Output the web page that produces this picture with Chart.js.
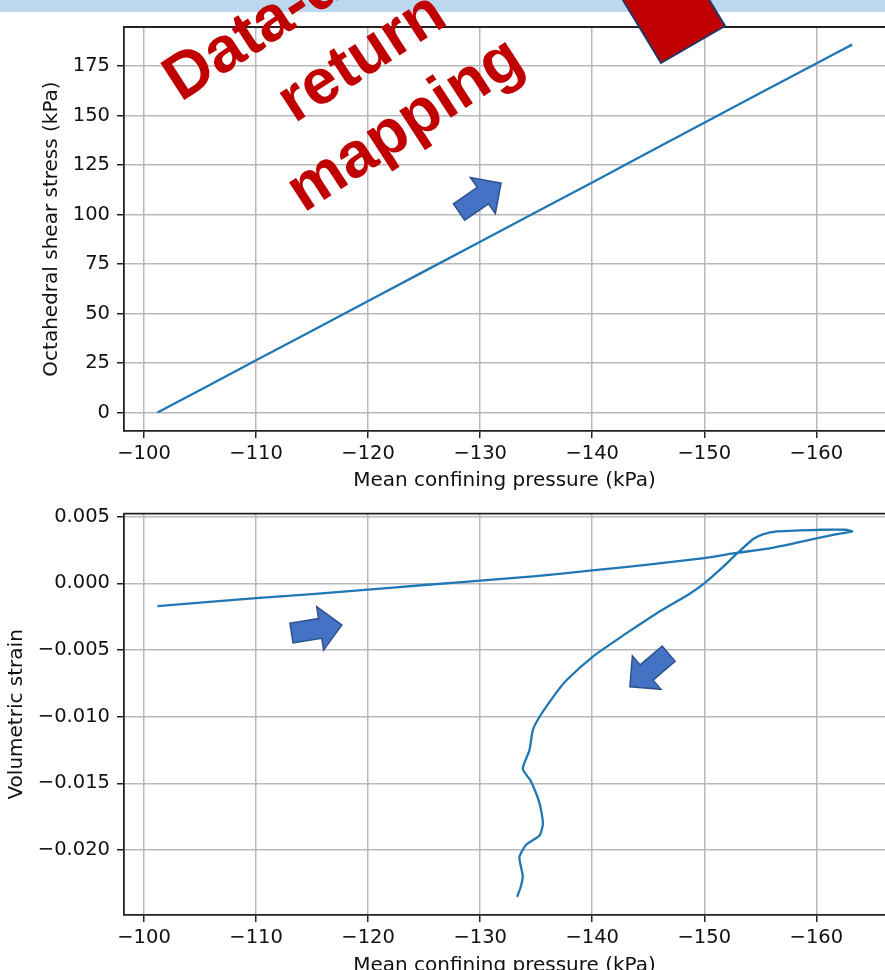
<!DOCTYPE html>
<html>
<head>
<meta charset="utf-8">
<script src="https://cdn.jsdelivr.net/npm/chart.js@4.4.1/dist/chart.umd.min.js"></script>
<style>
html,body{margin:0;padding:0;background:#fff;width:885px;height:970px;overflow:hidden;}
#wrap{position:relative;width:885px;height:970px;overflow:hidden;}
canvas{position:absolute;left:0;}
#c1{top:0;}
#c2{top:495px;}
#rt{position:absolute;left:110px;top:-65px;width:500px;height:240px;text-align:center;white-space:nowrap;
  font-family:'Liberation Sans',Arial,sans-serif;font-weight:bold;font-size:64px;line-height:80px;color:#c00000;
  transform:rotate(-33deg);transform-origin:50% 50%;}
#strip{position:absolute;left:0;top:0;width:885px;height:12px;background:#bdd7ee;}
#deco{position:absolute;left:0;top:0;}
</style>
</head>
<body>
<div id="wrap">
  <canvas id="c1" width="885" height="495"></canvas>
  <canvas id="c2" width="885" height="483"></canvas>
  <div id="strip"></div>
  <div id="rt">Data-driven<br>return<br>mapping</div>
  <svg id="deco" width="885" height="970" viewBox="0 0 885 970">
    <polygon points="661,63 725,26 673,-60 609,-23" fill="#c00000" stroke="#203864" stroke-width="2"/>
    <g fill="#4472c4" stroke="#2f528f" stroke-width="1.5" stroke-linejoin="miter">
      <path transform="translate(459,212) rotate(-34.5)" d="M0,-10 L29,-10 L29,-22 L51,0 L29,22 L29,10 L0,10 Z"/>
      <path transform="translate(291.5,633) rotate(-9)" d="M0,-10 L29,-10 L29,-22 L51,0 L29,22 L29,10 L0,10 Z"/>
      <path transform="translate(668.7,653.7) rotate(139.5)" d="M0,-10 L29,-10 L29,-22 L51,0 L29,22 L29,10 L0,10 Z"/>
    </g>
  </svg>
</div>
<script>
// ---- data ----
const xTickValues = [-100, -110, -120, -130, -140, -150, -160];
const xTickLabels = ['\u2212100', '\u2212110', '\u2212120', '\u2212130', '\u2212140', '\u2212150', '\u2212160'];

const stressTickValues = [0, 25, 50, 75, 100, 125, 150, 175];
const stressTickLabels = ['0', '25', '50', '75', '100', '125', '150', '175'];

const strainTickValues = [0.005, 0, -0.005, -0.01, -0.015, -0.02];
const strainTickLabels = ['0.005', '0.000', '\u22120.005', '\u22120.010', '\u22120.015', '\u22120.020'];

// top panel: mean confining pressure vs octahedral shear stress
const pressureTop = [-101.2, -110, -120, -130, -140, -150, -160, -163.2];
const shearStress = [0, 26.4, 56.3, 86.3, 116.2, 146.4, 176.3, 185.8];

// bottom panel: mean confining pressure vs volumetric strain
const pressureBottom = [-101.2, -105, -110, -115, -120, -125, -130, -135, -140, -145, -150, -153, -155.6, -158.5, -161.5, -163.2,
  -162.6, -160.5, -158.5, -156.5, -155.3, -154.4, -153, -151.5, -150, -148.7, -145.7, -143, -140.2, -137.7, -136.7, -135.3,
  -134.7, -134.4, -133.8, -134.5, -135.3, -135.6, -135.3, -134.1, -133.5, -133.6, -133.8, -133.6, -133.3];
const volStrain = [-0.0017, -0.00145, -0.0011, -0.0008, -0.00047, -0.00012, 0.0002, 0.00055, 0.00097, 0.0014, 0.0019, 0.0023, 0.0026, 0.0031, 0.00364, 0.0039,
  0.00402, 0.00402, 0.00397, 0.0039, 0.0037, 0.00335, 0.0023, 0.0011, 0.0, -0.00077, -0.00227, -0.00377, -0.0054, -0.00726, -0.0083, -0.0100,
  -0.0110, -0.0125, -0.0139, -0.0148, -0.0165, -0.0180, -0.0189, -0.0196, -0.0205, -0.0211, -0.0220, -0.0228, -0.0235];

const xLabel = 'Mean confining pressure (kPa)';
const yLabelTop = 'Octahedral shear stress (kPa)';
const yLabelBottom = 'Volumetric strain';

// ---- rendering ----
const FONT = {family: "'DejaVu Sans', sans-serif", size: 19.5};
const TFONT = {family: "'DejaVu Sans', sans-serif", size: 20};
const SPINE = '#222';
const GRID = '#b9b9b9';

const topSpine = {
  id: 'topSpine',
  afterDraw(chart) {
    const {ctx, chartArea: a} = chart;
    ctx.save();
    ctx.strokeStyle = SPINE;
    ctx.lineWidth = 1.8;
    ctx.beginPath();
    ctx.moveTo(a.left, a.top);
    ctx.lineTo(a.right + 2, a.top);
    ctx.stroke();
    ctx.restore();
  }
};

function xScale(axisHeight, titlePadBottom) {
  return {
    type: 'linear', position: 'bottom', reverse: true,
    min: -166.13, max: -98.21,
    afterBuildTicks: s => { s.ticks = xTickValues.map(v => ({value: v})); },
    afterFit: s => { s.height = axisHeight; },
    ticks: {
      autoSkip: false, maxRotation: 0, minRotation: 0, padding: 4,
      color: '#111', font: FONT,
      callback: v => xTickLabels[xTickValues.indexOf(v)]
    },
    grid: {color: GRID, lineWidth: 1.5, drawTicks: true, tickLength: 7, tickColor: SPINE, tickWidth: 1.5},
    border: {display: true, color: SPINE, width: 1.8},
    title: {display: true, text: xLabel, color: '#111', font: TFONT, padding: {top: 0, bottom: titlePadBottom}}
  };
}

function yScale(min, max, vals, labels, title, titlePadTop) {
  return {
    type: 'linear', position: 'left', min: min, max: max,
    afterBuildTicks: s => { s.ticks = vals.map(v => ({value: v})); },
    afterFit: s => { s.width = 124; },
    ticks: {
      padding: 7, color: '#111', font: FONT,
      callback: v => labels[vals.indexOf(v)]
    },
    grid: {color: GRID, lineWidth: 1.5, drawTicks: true, tickLength: 7, tickColor: SPINE, tickWidth: 1.5},
    border: {display: true, color: SPINE, width: 1.8},
    title: {display: true, text: title, color: '#111', font: TFONT, padding: {top: titlePadTop, bottom: 0}}
  };
}

function lineDataset(xs, ys) {
  return {
    data: xs.map((x, i) => ({x: x, y: ys[i]})),
    showLine: true, borderColor: '#1f77b4', borderWidth: 2.3,
    pointRadius: 0, pointHoverRadius: 0, tension: 0.2, fill: false
  };
}

const common = {
  responsive: false, animation: false, devicePixelRatio: 1,
  plugins: {legend: {display: false}, tooltip: {enabled: false}}
};

new Chart(document.getElementById('c1'), {
  type: 'scatter',
  data: {datasets: [lineDataset(pressureTop, shearStress)]},
  options: Object.assign({}, common, {
    layout: {padding: {top: 27, left: 0, right: 0, bottom: 0}},
    scales: {
      x: xScale(64, 2),
      y: yScale(-9.3, 194.7, stressTickValues, stressTickLabels, yLabelTop, 40)
    }
  }),
  plugins: [topSpine]
});

new Chart(document.getElementById('c2'), {
  type: 'scatter',
  data: {datasets: [lineDataset(pressureBottom, volStrain)]},
  options: Object.assign({}, common, {
    layout: {padding: {top: 18, left: 0, right: 0, bottom: 0}},
    scales: {
      x: xScale(63, 0),
      y: yScale(-0.024865, 0.005225, strainTickValues, strainTickLabels, yLabelBottom, 5)
    }
  }),
  plugins: [topSpine]
});
</script>
</body>
</html>
